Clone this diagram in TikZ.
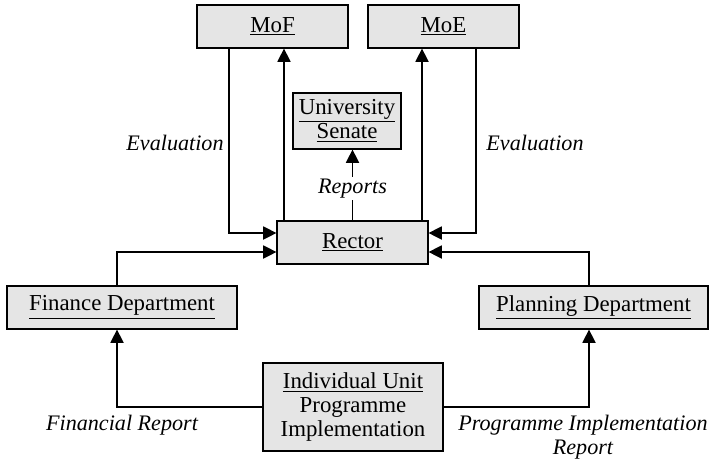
\documentclass[tikz,border=0pt]{standalone}
\usepackage{fontspec}
\setmainfont{Liberation Serif}
\usepackage{xcolor}
\usepackage{tikz}
\usetikzlibrary{arrows.meta,positioning,calc}

\begin{document}
\begin{tikzpicture}[
    x=0.02cm, y=-0.02cm,
    unit/.style={rectangle, draw=black, fill=gray!20, line width=0.7pt,
                 minimum width=3.02cm, minimum height=0.86cm,
                 font=\fontsize{13}{14.5}\selectfont, align=center, inner sep=2pt},
    arrow/.style={-{Triangle[length=7.5pt,width=7.5pt]}, line width=0.7pt},
    label/.style={font=\fontsize{12.6}{13.6}\selectfont\itshape, align=center}
]
    \useasboundingbox (0,0) rectangle (714,461);

    % Ministries
    \node[unit] (MoF) at (272.5, 26.5) {\underline{MoF}};
    \node[unit] (MoE) at (443.5, 26.5) {\underline{MoE}};

    % Senate and rector
    \node[unit, minimum width=2.16cm, minimum height=1.12cm,
          font=\fontsize{13}{14}\selectfont] (Senate) at (347, 121)
          {\underline{University}\\\underline{Senate}};
    \node[unit] (Rector) at (352.5, 242.5) {\underline{Rector}};

    % Departments
    \node[unit, minimum width=4.6cm] (Finance) at (122, 307.5) {\underline{Finance Department}};
    \node[unit, minimum width=4.58cm] (Planning) at (593.5, 307.5) {\underline{Planning Department}};

    % Unit
    \node[unit, minimum width=3.6cm, minimum height=1.76cm,
          font=\fontsize{13}{13.6}\selectfont] (Unit) at (353, 407)
          {\underline{Individual Unit}\\Programme\\Implementation};

    % Connection points
    \coordinate (mofA) at ([xshift=-0.87cm]MoF.south);
    \coordinate (mofB) at ([xshift=0.23cm]MoF.south);
    \coordinate (moeA) at ([xshift=-0.43cm]MoE.south);
    \coordinate (moeB) at ([xshift=0.65cm]MoE.south);
    \coordinate (rWup) at ([yshift=0.19cm]Rector.west);
    \coordinate (rWdn) at ([yshift=-0.19cm]Rector.west);
    \coordinate (rEup) at ([yshift=0.19cm]Rector.east);
    \coordinate (rEdn) at ([yshift=-0.19cm]Rector.east);
    \coordinate (finT) at ([xshift=-0.1cm]Finance.north);
    \coordinate (finB) at ([xshift=-0.1cm]Finance.south);
    \coordinate (plaT) at ([xshift=-0.09cm]Planning.north);
    \coordinate (plaB) at ([xshift=-0.09cm]Planning.south);

    % Evaluation from ministries
    \draw[arrow] (mofA) |- (rWup);
    \draw[arrow] (moeB) |- (rEup);

    % Rector to ministries
    \draw[arrow] (mofB |- Rector.north) -- (mofB);
    \draw[arrow] (moeA |- Rector.north) -- (moeA);

    % Reports to senate
    \draw[arrow] (Rector.north) -- (Rector.north |- Senate.south)
        node[label, pos=0.45, fill=white, inner sep=1pt] (rep) {Reports};

    % Departments to rector
    \draw[arrow] (finT) |- (rWdn);
    \draw[arrow] (plaT) |- (rEdn);

    % Unit to departments
    \draw[arrow] (Unit.west) -| (finB);
    \draw[arrow] (Unit.east) -| (plaB);

    % Labels
    \node[label] (evL) at (175, 143) {Evaluation};
    \node[label] (evR) at (535, 143) {Evaluation};
    \node[label] (finRep) at (122, 425) {Financial Report};
    \node[label] (proRep) at (583, 437) {Programme Implementation\\Report};
\end{tikzpicture}
\end{document}
